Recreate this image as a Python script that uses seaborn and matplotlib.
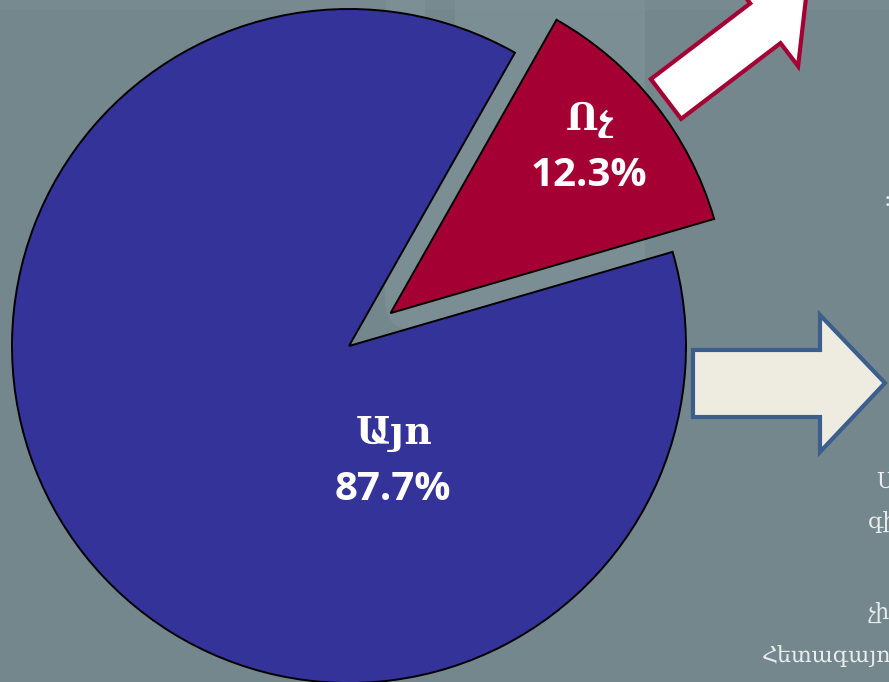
import numpy as np
import matplotlib
matplotlib.use("Agg")
import matplotlib.pyplot as plt
from matplotlib.patches import Polygon, FancyBboxPatch
import seaborn as sns

# ---- data ----
categories = ["Այո", "Ոչ"]
values = [87.7, 12.3]
pct_labels = ["87.7%", "12.3%"]
side_texts = ["Սովորողների", "գիտելիքները", "չի", "Հետագայում"]

sns.set_theme(style="white")
plt.rcParams["font.family"] = ["DejaVu Sans"]

W, H = 889, 682
bg = "#74878c"
fig = plt.figure(figsize=(W / 100, H / 100), dpi=100, facecolor=bg)
ax = fig.add_axes([0, 0, 1, 1])
ax.set_facecolor(bg)

def Y(y):  # image y (down) -> data y (up)
    return H - y

# subtle background decoration
ax.add_patch(FancyBboxPatch((385, Y(330)), 260, 350, boxstyle="round,pad=0,rounding_size=30",
                            facecolor="#8a9ca1", edgecolor="none", alpha=0.35, zorder=0))
ax.add_patch(plt.Rectangle((425, Y(25)), 30, 25, facecolor="#6f8287", edgecolor="none", alpha=0.5, zorder=0))
ax.add_patch(plt.Rectangle((0, Y(10)), W, 10, facecolor="#7f9196", edgecolor="none", alpha=0.4, zorder=0))

palette = sns.color_palette(["#333399", "#A50034"])
wedges, _ = ax.pie(values, colors=palette, explode=[0, 53], startangle=60.5,
                   counterclock=True, radius=337, center=(349, Y(346)),
                   wedgeprops=dict(edgecolor="black", linewidth=1.4), frame=True)
for w in wedges:
    w.set_zorder(2)

ax.set_xlim(0, W)
ax.set_ylim(0, H)
ax.set_aspect("equal")
ax.axis("off")

# labels
ax.text(394, Y(434), categories[0], ha="center", va="center", color="white",
        fontsize=27, fontweight="bold", family=["DejaVu Serif"], zorder=5)
ax.text(393, Y(490), pct_labels[0], ha="center", va="center", color="white",
        fontsize=29, fontweight="bold", family=["Open Sans", "DejaVu Sans"], zorder=5)
ax.text(590, Y(120), categories[1], ha="center", va="center", color="white",
        fontsize=27, fontweight="bold", family=["DejaVu Serif"], zorder=5)
ax.text(589, Y(175), pct_labels[1], ha="center", va="center", color="white",
        fontsize=29, fontweight="bold", family=["Open Sans", "DejaVu Sans"], zorder=5)

# arrow 1: white with crimson outline, pointing up-right
u = np.array([0.795, 0.606])   # direction (data coords, y up)
n = np.array([0.606, -0.795])  # perpendicular
tail_c = np.array([666, Y(99)])
half_w = 25
shaft_len = 125
head_w = 54
head_len = 52
base_c = tail_c + shaft_len * u
pts1 = [tail_c - half_w * n, base_c - half_w * n, base_c - head_w * n,
        base_c + head_len * u, base_c + head_w * n, base_c + half_w * n, tail_c + half_w * n]
ax.add_patch(Polygon(pts1, closed=True, facecolor="white", edgecolor="#A50034",
                     linewidth=3, joinstyle="miter", zorder=3))

# arrow 2: cream with blue outline, pointing right
pts2 = [(693, Y(350)), (820, Y(350)), (820, Y(315)), (885, Y(383)),
        (820, Y(452)), (820, Y(417)), (693, Y(417))]
ax.add_patch(Polygon(pts2, closed=True, facecolor="#EEECE1", edgecolor="#3B5E8C",
                     linewidth=3, joinstyle="miter", zorder=3))

# side text (cut off at the right edge, as in the reference)
tc = "#e8ecee"
ax.text(876, Y(482), side_texts[0], ha="left", va="center", color=tc, fontsize=16,
        family=["DejaVu Serif"], zorder=4)
ax.text(868, Y(522), side_texts[1], ha="left", va="center", color=tc, fontsize=16,
        family=["DejaVu Serif"], zorder=4)
ax.text(868, Y(613), side_texts[2], ha="left", va="center", color=tc, fontsize=16,
        family=["DejaVu Serif"], zorder=4)
ax.text(762, Y(656), side_texts[3], ha="left", va="center", color=tc, fontsize=16,
        family=["DejaVu Serif"], zorder=4)
ax.text(884, Y(200), "։", ha="left", va="center", color=tc, fontsize=16,
        family=["DejaVu Serif"], zorder=4)

fig.savefig("out.png", dpi=100, facecolor=bg)
